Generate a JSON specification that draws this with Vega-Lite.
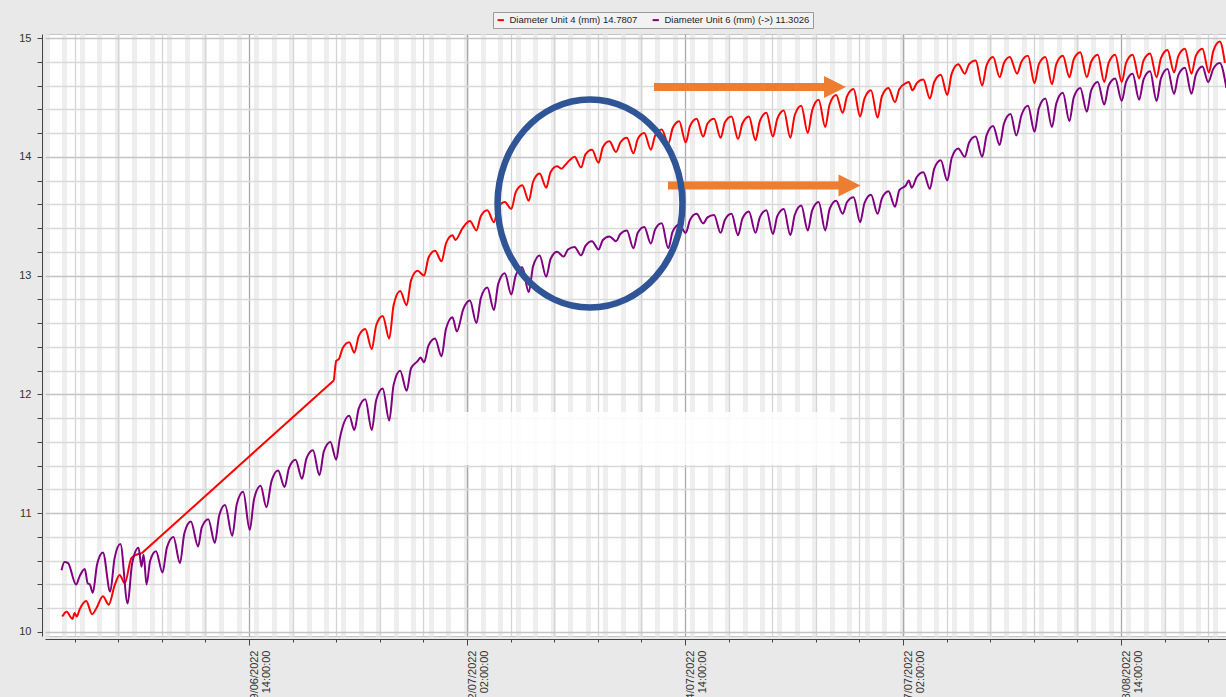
{
  "$schema": "https://vega.github.io/schema/vega-lite/v6.json",
  "width": 1181,
  "height": 602,
  "autosize": {"type": "none"},
  "padding": {"left": 45, "top": 34, "right": 0, "bottom": 61},
  "background": "#e9e9e9",
  "config": {"view": {"fill": "#ffffff", "stroke": "#c4c4c4"}, "font": "Liberation Sans"},
  "resolve": {"axis": {"x": "independent"}},
  "datasets": {
    "patch": [{"t1": "2022-06-28T03:03", "t2": "2022-07-23T11:20", "v1": 11.406, "v2": 11.852}],
    "gap": [{"t1": "2022-06-13T10:00", "t2": "2022-06-24T11:00", "v1": 10.66, "v2": 12.12}],
    "arrows": [
      {"t1": "2022-07-12T19:20", "t2": "2022-07-22T16:02", "th": "2022-07-23T04:25", "v": 14.588},
      {"t1": "2022-07-13T14:36", "t2": "2022-07-23T11:19", "th": "2022-07-24T00:22", "v": 13.758}
    ],
    "ring": [{"t": "2022-07-09T03:16", "v": 13.607}],
    "u4": [
      {"t":"2022-06-08T21:00","v":10.13,"s":1},{"t":"2022-06-09T03:00","v":10.17,"s":1},{"t":"2022-06-09T11:00","v":10.11,"s":1},{"t":"2022-06-09T14:00","v":10.16,"s":1},{"t":"2022-06-09T17:00","v":10.13,"s":1},{"t":"2022-06-09T21:00","v":10.19,"s":1},
      {"t":"2022-06-10T06:00","v":10.26,"s":1},{"t":"2022-06-10T14:00","v":10.15,"s":1},{"t":"2022-06-10T20:00","v":10.2,"s":1},
      {"t":"2022-06-11T05:00","v":10.3,"s":1},{"t":"2022-06-11T13:00","v":10.23,"s":1},{"t":"2022-06-11T21:00","v":10.39,"s":1},
      {"t":"2022-06-12T04:00","v":10.48,"s":1},{"t":"2022-06-12T11:00","v":10.41,"s":1},{"t":"2022-06-12T20:00","v":10.62,"s":1},
      {"t":"2022-06-13T03:00","v":10.65,"s":1},{"t":"2022-06-13T10:00","v":10.66,"s":1},
      {"t":"2022-06-24T11:00","v":12.12,"s":2},{"t":"2022-06-24T14:00","v":12.28,"s":2},{"t":"2022-06-24T18:00","v":12.3,"s":2},{"t":"2022-06-24T23:00","v":12.39,"s":2},
      {"t":"2022-06-25T08:00","v":12.44,"s":2},{"t":"2022-06-25T15:00","v":12.35,"s":2},{"t":"2022-06-25T21:00","v":12.49,"s":2},
      {"t":"2022-06-26T06:00","v":12.55,"s":2},{"t":"2022-06-26T15:00","v":12.38,"s":2},{"t":"2022-06-26T21:00","v":12.58,"s":2},
      {"t":"2022-06-27T06:00","v":12.66,"s":2},{"t":"2022-06-27T15:00","v":12.47,"s":2},{"t":"2022-06-27T21:00","v":12.75,"s":2},
      {"t":"2022-06-28T06:00","v":12.87,"s":2},{"t":"2022-06-28T15:00","v":12.75,"s":2},{"t":"2022-06-28T21:00","v":12.96,"s":2},
      {"t":"2022-06-29T06:00","v":13.04,"s":2},{"t":"2022-06-29T15:00","v":13.0,"s":2},{"t":"2022-06-29T21:00","v":13.15,"s":2},
      {"t":"2022-06-30T06:00","v":13.21,"s":2},{"t":"2022-06-30T15:00","v":13.12,"s":2},{"t":"2022-06-30T21:00","v":13.27,"s":2},
      {"t":"2022-07-01T06:00","v":13.34,"s":2},{"t":"2022-07-01T10:00","v":13.3,"s":2},{"t":"2022-07-01T20:00","v":13.4,"s":2},
      {"t":"2022-07-02T06:00","v":13.46,"s":2},{"t":"2022-07-02T15:00","v":13.38,"s":2},{"t":"2022-07-02T21:00","v":13.5,"s":2},
      {"t":"2022-07-03T06:00","v":13.55,"s":2},{"t":"2022-07-03T15:00","v":13.45,"s":2},{"t":"2022-07-03T21:00","v":13.57,"s":2},
      {"t":"2022-07-04T06:00","v":13.62,"s":2},{"t":"2022-07-04T15:00","v":13.56,"s":2},{"t":"2022-07-04T21:00","v":13.7,"s":2},
      {"t":"2022-07-05T06:00","v":13.76,"s":2},{"t":"2022-07-05T15:00","v":13.63,"s":2},{"t":"2022-07-05T21:00","v":13.79,"s":2},
      {"t":"2022-07-06T06:00","v":13.86,"s":2},{"t":"2022-07-06T15:00","v":13.74,"s":2},{"t":"2022-07-06T21:00","v":13.87,"s":2},
      {"t":"2022-07-07T06:00","v":13.92,"s":2},{"t":"2022-07-07T12:00","v":13.9,"s":2},{"t":"2022-07-07T17:00","v":13.93,"s":2},{"t":"2022-07-07T23:00","v":13.97,"s":2},
      {"t":"2022-07-08T06:00","v":14.0,"s":2},{"t":"2022-07-08T15:00","v":13.91,"s":2},{"t":"2022-07-08T21:00","v":14.02,"s":2},
      {"t":"2022-07-09T06:00","v":14.06,"s":2},{"t":"2022-07-09T15:00","v":13.95,"s":2},{"t":"2022-07-09T21:00","v":14.08,"s":2},
      {"t":"2022-07-10T06:00","v":14.13,"s":2},{"t":"2022-07-10T15:00","v":14.04,"s":2},{"t":"2022-07-10T21:00","v":14.12,"s":2},
      {"t":"2022-07-11T06:00","v":14.16,"s":2},{"t":"2022-07-11T15:00","v":14.03,"s":2},{"t":"2022-07-11T21:00","v":14.15,"s":2},
      {"t":"2022-07-12T06:00","v":14.2,"s":2},{"t":"2022-07-12T15:00","v":14.06,"s":2},{"t":"2022-07-12T21:00","v":14.18,"s":2},
      {"t":"2022-07-13T06:00","v":14.23,"s":2},{"t":"2022-07-13T15:00","v":14.11,"s":2},{"t":"2022-07-13T21:00","v":14.24,"s":2},
      {"t":"2022-07-14T06:00","v":14.3,"s":2},{"t":"2022-07-14T15:00","v":14.12,"s":2},{"t":"2022-07-14T21:00","v":14.26,"s":2},
      {"t":"2022-07-15T06:00","v":14.32,"s":2},{"t":"2022-07-15T15:00","v":14.17,"s":2},{"t":"2022-07-15T21:00","v":14.28,"s":2},
      {"t":"2022-07-16T06:00","v":14.32,"s":2},{"t":"2022-07-16T15:00","v":14.16,"s":2},{"t":"2022-07-16T21:00","v":14.29,"s":2},
      {"t":"2022-07-17T06:00","v":14.34,"s":2},{"t":"2022-07-17T15:00","v":14.15,"s":2},{"t":"2022-07-17T21:00","v":14.28,"s":2},
      {"t":"2022-07-18T06:00","v":14.34,"s":2},{"t":"2022-07-18T15:00","v":14.14,"s":2},{"t":"2022-07-18T21:00","v":14.3,"s":2},
      {"t":"2022-07-19T06:00","v":14.37,"s":2},{"t":"2022-07-19T15:00","v":14.17,"s":2},{"t":"2022-07-19T21:00","v":14.32,"s":2},
      {"t":"2022-07-20T06:00","v":14.39,"s":2},{"t":"2022-07-20T15:00","v":14.16,"s":2},{"t":"2022-07-20T21:00","v":14.35,"s":2},
      {"t":"2022-07-21T06:00","v":14.43,"s":2},{"t":"2022-07-21T15:00","v":14.2,"s":2},{"t":"2022-07-21T21:00","v":14.39,"s":2},
      {"t":"2022-07-22T06:00","v":14.48,"s":2},{"t":"2022-07-22T15:00","v":14.25,"s":2},{"t":"2022-07-22T21:00","v":14.44,"s":2},
      {"t":"2022-07-23T06:00","v":14.52,"s":2},{"t":"2022-07-23T15:00","v":14.37,"s":2},{"t":"2022-07-23T21:00","v":14.51,"s":2},
      {"t":"2022-07-24T06:00","v":14.57,"s":2},{"t":"2022-07-24T15:00","v":14.34,"s":2},{"t":"2022-07-24T21:00","v":14.49,"s":2},
      {"t":"2022-07-25T06:00","v":14.56,"s":2},{"t":"2022-07-25T15:00","v":14.33,"s":2},{"t":"2022-07-25T21:00","v":14.51,"s":2},
      {"t":"2022-07-26T06:00","v":14.58,"s":2},{"t":"2022-07-26T15:00","v":14.46,"s":2},{"t":"2022-07-26T21:00","v":14.57,"s":2},
      {"t":"2022-07-27T06:00","v":14.62,"s":2},{"t":"2022-07-27T10:00","v":14.63,"s":2},{"t":"2022-07-27T15:00","v":14.56,"s":2},{"t":"2022-07-27T21:00","v":14.62,"s":2},
      {"t":"2022-07-28T06:00","v":14.65,"s":2},{"t":"2022-07-28T15:00","v":14.49,"s":2},{"t":"2022-07-28T21:00","v":14.63,"s":2},
      {"t":"2022-07-29T06:00","v":14.69,"s":2},{"t":"2022-07-29T15:00","v":14.52,"s":2},{"t":"2022-07-29T21:00","v":14.7,"s":2},
      {"t":"2022-07-30T06:00","v":14.78,"s":2},{"t":"2022-07-30T15:00","v":14.7,"s":2},{"t":"2022-07-30T21:00","v":14.78,"s":2},
      {"t":"2022-07-31T06:00","v":14.81,"s":2},{"t":"2022-07-31T15:00","v":14.6,"s":2},{"t":"2022-07-31T21:00","v":14.77,"s":2},
      {"t":"2022-08-01T06:00","v":14.84,"s":2},{"t":"2022-08-01T15:00","v":14.67,"s":2},{"t":"2022-08-01T21:00","v":14.79,"s":2},
      {"t":"2022-08-02T05:00","v":14.84,"s":2},{"t":"2022-08-02T15:00","v":14.7,"s":2},{"t":"2022-08-02T21:00","v":14.8,"s":2},
      {"t":"2022-08-03T06:00","v":14.85,"s":2},{"t":"2022-08-03T15:00","v":14.62,"s":2},{"t":"2022-08-03T21:00","v":14.78,"s":2},
      {"t":"2022-08-04T06:00","v":14.84,"s":2},{"t":"2022-08-04T15:00","v":14.61,"s":2},{"t":"2022-08-04T21:00","v":14.78,"s":2},
      {"t":"2022-08-05T06:00","v":14.85,"s":2},{"t":"2022-08-05T15:00","v":14.67,"s":2},{"t":"2022-08-05T21:00","v":14.82,"s":2},
      {"t":"2022-08-06T06:00","v":14.88,"s":2},{"t":"2022-08-06T15:00","v":14.67,"s":2},{"t":"2022-08-06T21:00","v":14.8,"s":2},
      {"t":"2022-08-07T06:00","v":14.86,"s":2},{"t":"2022-08-07T15:00","v":14.63,"s":2},{"t":"2022-08-07T21:00","v":14.79,"s":2},
      {"t":"2022-08-08T06:00","v":14.86,"s":2},{"t":"2022-08-08T15:00","v":14.63,"s":2},{"t":"2022-08-08T21:00","v":14.79,"s":2},
      {"t":"2022-08-09T06:00","v":14.86,"s":2},{"t":"2022-08-09T15:00","v":14.66,"s":2},{"t":"2022-08-09T21:00","v":14.81,"s":2},
      {"t":"2022-08-10T06:00","v":14.87,"s":2},{"t":"2022-08-10T15:00","v":14.67,"s":2},{"t":"2022-08-10T21:00","v":14.83,"s":2},
      {"t":"2022-08-11T06:00","v":14.9,"s":2},{"t":"2022-08-11T15:00","v":14.71,"s":2},{"t":"2022-08-11T21:00","v":14.85,"s":2},
      {"t":"2022-08-12T06:00","v":14.91,"s":2},{"t":"2022-08-12T15:00","v":14.7,"s":2},{"t":"2022-08-12T21:00","v":14.85,"s":2},
      {"t":"2022-08-13T06:00","v":14.91,"s":2},{"t":"2022-08-13T15:00","v":14.71,"s":2},{"t":"2022-08-13T21:00","v":14.89,"s":2},
      {"t":"2022-08-14T06:00","v":14.97,"s":2},{"t":"2022-08-14T13:00","v":14.79,"s":2}
    ],
    "u6": [
      {"t":"2022-06-08T20:00","v":10.52},{"t":"2022-06-09T00:00","v":10.59},{"t":"2022-06-09T05:00","v":10.58},{"t":"2022-06-09T16:00","v":10.4},{"t":"2022-06-09T21:00","v":10.47},
      {"t":"2022-06-10T04:00","v":10.53},{"t":"2022-06-10T08:00","v":10.41},{"t":"2022-06-10T11:00","v":10.4},{"t":"2022-06-10T15:00","v":10.33},{"t":"2022-06-10T21:00","v":10.57},
      {"t":"2022-06-11T05:00","v":10.67},{"t":"2022-06-11T15:00","v":10.34},{"t":"2022-06-11T21:00","v":10.62},
      {"t":"2022-06-12T05:00","v":10.74},{"t":"2022-06-12T15:00","v":10.24},{"t":"2022-06-12T21:00","v":10.57},
      {"t":"2022-06-13T06:00","v":10.71},{"t":"2022-06-13T10:00","v":10.55},{"t":"2022-06-13T13:00","v":10.65},{"t":"2022-06-13T17:00","v":10.4},{"t":"2022-06-13T22:00","v":10.6},
      {"t":"2022-06-14T06:00","v":10.68},{"t":"2022-06-14T15:00","v":10.5},{"t":"2022-06-14T21:00","v":10.71},
      {"t":"2022-06-15T06:00","v":10.8},{"t":"2022-06-15T15:00","v":10.58},{"t":"2022-06-15T21:00","v":10.83},
      {"t":"2022-06-16T06:00","v":10.93},{"t":"2022-06-16T16:00","v":10.72},{"t":"2022-06-16T21:00","v":10.88},
      {"t":"2022-06-17T06:00","v":10.95},{"t":"2022-06-17T15:00","v":10.75},{"t":"2022-06-17T21:00","v":10.98},
      {"t":"2022-06-18T05:00","v":11.07},{"t":"2022-06-18T15:00","v":10.81},{"t":"2022-06-18T21:00","v":11.07},
      {"t":"2022-06-19T06:00","v":11.18},{"t":"2022-06-19T15:00","v":10.86},{"t":"2022-06-19T21:00","v":11.12},
      {"t":"2022-06-20T06:00","v":11.23},{"t":"2022-06-20T14:00","v":11.05},{"t":"2022-06-20T21:00","v":11.27},
      {"t":"2022-06-21T06:00","v":11.36},{"t":"2022-06-21T15:00","v":11.22},{"t":"2022-06-21T21:00","v":11.38},
      {"t":"2022-06-22T06:00","v":11.45},{"t":"2022-06-22T15:00","v":11.29},{"t":"2022-06-22T21:00","v":11.46},
      {"t":"2022-06-23T06:00","v":11.53},{"t":"2022-06-23T15:00","v":11.32},{"t":"2022-06-23T21:00","v":11.52},
      {"t":"2022-06-24T06:00","v":11.6},{"t":"2022-06-24T14:00","v":11.45},{"t":"2022-06-24T19:00","v":11.63},
      {"t":"2022-06-25T08:00","v":11.82},{"t":"2022-06-25T15:00","v":11.7},{"t":"2022-06-25T21:00","v":11.88},
      {"t":"2022-06-26T06:00","v":11.96},{"t":"2022-06-26T15:00","v":11.7},{"t":"2022-06-26T21:00","v":11.95},
      {"t":"2022-06-27T06:00","v":12.05},{"t":"2022-06-27T15:00","v":11.78},{"t":"2022-06-27T21:00","v":12.08},
      {"t":"2022-06-28T06:00","v":12.2},{"t":"2022-06-28T15:00","v":12.03},{"t":"2022-06-28T21:00","v":12.22},
      {"t":"2022-06-29T06:00","v":12.28},{"t":"2022-06-29T10:00","v":12.31},{"t":"2022-06-29T15:00","v":12.27},{"t":"2022-06-29T21:00","v":12.41},
      {"t":"2022-06-30T06:00","v":12.47},{"t":"2022-06-30T15:00","v":12.32},{"t":"2022-06-30T21:00","v":12.55},
      {"t":"2022-07-01T06:00","v":12.65},{"t":"2022-07-01T12:00","v":12.53},{"t":"2022-07-01T21:00","v":12.72},
      {"t":"2022-07-02T06:00","v":12.79},{"t":"2022-07-02T15:00","v":12.6},{"t":"2022-07-02T21:00","v":12.81},
      {"t":"2022-07-03T06:00","v":12.9},{"t":"2022-07-03T15:00","v":12.71},{"t":"2022-07-03T21:00","v":12.93},
      {"t":"2022-07-04T06:00","v":13.02},{"t":"2022-07-04T15:00","v":12.84},{"t":"2022-07-04T21:00","v":13.0},
      {"t":"2022-07-05T06:00","v":13.07},{"t":"2022-07-05T15:00","v":12.86},{"t":"2022-07-05T21:00","v":13.08},
      {"t":"2022-07-06T06:00","v":13.17},{"t":"2022-07-06T15:00","v":12.99},{"t":"2022-07-06T21:00","v":13.14},
      {"t":"2022-07-07T06:00","v":13.2},{"t":"2022-07-07T15:00","v":13.16},{"t":"2022-07-07T21:00","v":13.22},
      {"t":"2022-07-08T06:00","v":13.24},{"t":"2022-07-08T15:00","v":13.17},{"t":"2022-07-08T21:00","v":13.25},
      {"t":"2022-07-09T06:00","v":13.29},{"t":"2022-07-09T15:00","v":13.22},{"t":"2022-07-09T21:00","v":13.3},
      {"t":"2022-07-10T06:00","v":13.33},{"t":"2022-07-10T15:00","v":13.29},{"t":"2022-07-10T21:00","v":13.35},
      {"t":"2022-07-11T06:00","v":13.38},{"t":"2022-07-11T15:00","v":13.23},{"t":"2022-07-11T21:00","v":13.36},
      {"t":"2022-07-12T06:00","v":13.41},{"t":"2022-07-12T15:00","v":13.27},{"t":"2022-07-12T21:00","v":13.39},
      {"t":"2022-07-13T06:00","v":13.44},{"t":"2022-07-13T15:00","v":13.23},{"t":"2022-07-13T21:00","v":13.37},
      {"t":"2022-07-14T06:00","v":13.43},{"t":"2022-07-14T15:00","v":13.36},{"t":"2022-07-14T21:00","v":13.47},
      {"t":"2022-07-15T06:00","v":13.52},{"t":"2022-07-15T15:00","v":13.44},{"t":"2022-07-15T21:00","v":13.49},
      {"t":"2022-07-16T06:00","v":13.51},{"t":"2022-07-16T15:00","v":13.36},{"t":"2022-07-16T21:00","v":13.47},
      {"t":"2022-07-17T06:00","v":13.52},{"t":"2022-07-17T15:00","v":13.34},{"t":"2022-07-17T21:00","v":13.48},
      {"t":"2022-07-18T06:00","v":13.54},{"t":"2022-07-18T15:00","v":13.36},{"t":"2022-07-18T21:00","v":13.49},
      {"t":"2022-07-19T06:00","v":13.55},{"t":"2022-07-19T15:00","v":13.35},{"t":"2022-07-19T21:00","v":13.5},
      {"t":"2022-07-20T06:00","v":13.56},{"t":"2022-07-20T15:00","v":13.34},{"t":"2022-07-20T21:00","v":13.51},
      {"t":"2022-07-21T06:00","v":13.59},{"t":"2022-07-21T15:00","v":13.38},{"t":"2022-07-21T21:00","v":13.55},
      {"t":"2022-07-22T06:00","v":13.62},{"t":"2022-07-22T15:00","v":13.38},{"t":"2022-07-22T21:00","v":13.56},
      {"t":"2022-07-23T06:00","v":13.63},{"t":"2022-07-23T15:00","v":13.52},{"t":"2022-07-23T21:00","v":13.62},
      {"t":"2022-07-24T06:00","v":13.66},{"t":"2022-07-24T15:00","v":13.45},{"t":"2022-07-24T21:00","v":13.61},
      {"t":"2022-07-25T06:00","v":13.68},{"t":"2022-07-25T15:00","v":13.52},{"t":"2022-07-25T21:00","v":13.65},
      {"t":"2022-07-26T06:00","v":13.71},{"t":"2022-07-26T15:00","v":13.58},{"t":"2022-07-26T21:00","v":13.72},
      {"t":"2022-07-27T06:00","v":13.76},{"t":"2022-07-27T10:00","v":13.8},{"t":"2022-07-27T14:00","v":13.74},{"t":"2022-07-27T21:00","v":13.83},
      {"t":"2022-07-28T06:00","v":13.87},{"t":"2022-07-28T15:00","v":13.73},{"t":"2022-07-28T21:00","v":13.9},
      {"t":"2022-07-29T06:00","v":13.97},{"t":"2022-07-29T15:00","v":13.8},{"t":"2022-07-29T21:00","v":13.99},
      {"t":"2022-07-30T06:00","v":14.07},{"t":"2022-07-30T15:00","v":14.0},{"t":"2022-07-30T21:00","v":14.12},
      {"t":"2022-07-31T06:00","v":14.17},{"t":"2022-07-31T15:00","v":14.0},{"t":"2022-07-31T21:00","v":14.18},
      {"t":"2022-08-01T06:00","v":14.26},{"t":"2022-08-01T15:00","v":14.1},{"t":"2022-08-01T21:00","v":14.28},
      {"t":"2022-08-02T06:00","v":14.36},{"t":"2022-08-02T14:00","v":14.18},{"t":"2022-08-02T21:00","v":14.35},
      {"t":"2022-08-03T06:00","v":14.43},{"t":"2022-08-03T15:00","v":14.21},{"t":"2022-08-03T21:00","v":14.41},
      {"t":"2022-08-04T06:00","v":14.49},{"t":"2022-08-04T15:00","v":14.25},{"t":"2022-08-04T21:00","v":14.45},
      {"t":"2022-08-05T06:00","v":14.54},{"t":"2022-08-05T15:00","v":14.3},{"t":"2022-08-05T21:00","v":14.5},
      {"t":"2022-08-06T06:00","v":14.58},{"t":"2022-08-06T15:00","v":14.38},{"t":"2022-08-06T21:00","v":14.56},
      {"t":"2022-08-07T06:00","v":14.63},{"t":"2022-08-07T15:00","v":14.44},{"t":"2022-08-07T21:00","v":14.6},
      {"t":"2022-08-08T06:00","v":14.66},{"t":"2022-08-08T15:00","v":14.47},{"t":"2022-08-08T21:00","v":14.63},
      {"t":"2022-08-09T06:00","v":14.7},{"t":"2022-08-09T15:00","v":14.48},{"t":"2022-08-09T21:00","v":14.65},
      {"t":"2022-08-10T06:00","v":14.72},{"t":"2022-08-10T15:00","v":14.47},{"t":"2022-08-10T21:00","v":14.66},
      {"t":"2022-08-11T06:00","v":14.74},{"t":"2022-08-11T15:00","v":14.53},{"t":"2022-08-11T21:00","v":14.69},
      {"t":"2022-08-12T06:00","v":14.75},{"t":"2022-08-12T15:00","v":14.53},{"t":"2022-08-12T21:00","v":14.69},
      {"t":"2022-08-13T06:00","v":14.76},{"t":"2022-08-13T14:00","v":14.63},{"t":"2022-08-13T21:00","v":14.74},
      {"t":"2022-08-14T06:00","v":14.79},{"t":"2022-08-14T15:00","v":14.58}
    ]
  },
  "layer": [
    {
      "data": {"name": "patch"},
      "mark": {"type": "rect", "fill": "#ffffff", "opacity": 0.85},
      "encoding": {
        "x": {
          "field": "t1", "type": "temporal",
          "scale": {"domain": [{"year": 2022, "month": 6, "date": 7, "hours": 21, "minutes": 16}, {"year": 2022, "month": 8, "date": 14, "hours": 14, "minutes": 30}]},
          "axis": {"orient": "top", "title": null, "grid": true, "gridColor": "#eeeeee", "gridWidth": 5, "tickCount": {"interval": "day", "step": 1}, "labels": false, "ticks": false, "domain": false}
        },
        "x2": {"field": "t2"},
        "y": {"field": "v1", "type": "quantitative", "title": null, "scale": {"domain": [9.9663, 15.0337], "nice": false, "zero": false}},
        "y2": {"field": "v2"}
      }
    },
    {
      "data": {"name": "gap"},
      "mark": {"type": "rule", "color": "#ff0000", "strokeWidth": 2},
      "encoding": {
        "x": {"field": "t1", "type": "temporal", "axis": null},
        "x2": {"field": "t2"},
        "y": {"field": "v1", "type": "quantitative", "title": null},
        "y2": {"field": "v2"}
      }
    },
    {
      "data": {"name": "u4"},
      "mark": {"type": "line", "interpolate": "monotone", "strokeWidth": 2, "clip": true},
      "encoding": {
        "x": {
          "field": "t", "type": "temporal",
          "axis": {
            "orient": "bottom", "title": null, "offset": 3, "tickCount": 100,
            "values": [
              {"year": 2022, "month": 6, "date": 9, "hours": 14}, {"year": 2022, "month": 6, "date": 12, "hours": 2},
              {"year": 2022, "month": 6, "date": 14, "hours": 14}, {"year": 2022, "month": 6, "date": 17, "hours": 2},
              {"year": 2022, "month": 6, "date": 19, "hours": 14}, {"year": 2022, "month": 6, "date": 22, "hours": 2},
              {"year": 2022, "month": 6, "date": 24, "hours": 14}, {"year": 2022, "month": 6, "date": 27, "hours": 2},
              {"year": 2022, "month": 6, "date": 29, "hours": 14}, {"year": 2022, "month": 7, "date": 2, "hours": 2},
              {"year": 2022, "month": 7, "date": 4, "hours": 14}, {"year": 2022, "month": 7, "date": 7, "hours": 2},
              {"year": 2022, "month": 7, "date": 9, "hours": 14}, {"year": 2022, "month": 7, "date": 12, "hours": 2},
              {"year": 2022, "month": 7, "date": 14, "hours": 14}, {"year": 2022, "month": 7, "date": 17, "hours": 2},
              {"year": 2022, "month": 7, "date": 19, "hours": 14}, {"year": 2022, "month": 7, "date": 22, "hours": 2},
              {"year": 2022, "month": 7, "date": 24, "hours": 14}, {"year": 2022, "month": 7, "date": 27, "hours": 2},
              {"year": 2022, "month": 7, "date": 29, "hours": 14}, {"year": 2022, "month": 8, "date": 1, "hours": 2},
              {"year": 2022, "month": 8, "date": 3, "hours": 14}, {"year": 2022, "month": 8, "date": 6, "hours": 2},
              {"year": 2022, "month": 8, "date": 8, "hours": 14}, {"year": 2022, "month": 8, "date": 11, "hours": 2},
              {"year": 2022, "month": 8, "date": 13, "hours": 14}
            ],
            "grid": true,
            "gridColor": {"condition": {"test": "abs(((datum.value - datetime(2022,5,19,14,0,0,0)) / 86400000) % 12.5) < 0.01", "value": "#a9a9a9"}, "value": "#d4d4d4"},
            "gridWidth": 1.3,
            "tickSize": {"condition": {"test": "abs(((datum.value - datetime(2022,5,19,14,0,0,0)) / 86400000) % 12.5) < 0.01", "value": 6}, "value": 3},
            "tickColor": "#444444", "domainColor": "#444444",
            "labelExpr": "abs(((datum.value - datetime(2022,5,19,14,0,0,0)) / 86400000) % 12.5) < 0.01 ? [timeFormat(datum.value, '%d/%m/%Y'), timeFormat(datum.value, '%H:%M:%S')] : ''",
            "labelAngle": -90, "labelAlign": "right", "labelBaseline": "top",
            "labelFontSize": 11, "labelLineHeight": 12, "labelColor": "#333333", "labelPadding": 5,
            "labelOverlap": false, "labelBound": false, "labelFlush": false, "labelFont": "Liberation Sans"
          }
        },
        "y": {
          "field": "v", "type": "quantitative", "title": null,
          "axis": {
            "title": null, "offset": 3, "tickCount": 100,
            "values": [10, 10.2, 10.4, 10.6, 10.8, 11, 11.2, 11.4, 11.6, 11.8, 12, 12.2, 12.4, 12.6, 12.8, 13, 13.2, 13.4, 13.6, 13.8, 14, 14.2, 14.4, 14.6, 14.8, 15],
            "labelExpr": "datum.value % 1 == 0 ? format(datum.value, 'd') : ''",
            "labelOverlap": false, "labelBound": false, "labelFlush": false,
            "grid": true,
            "gridColor": {"condition": {"test": "datum.value % 1 == 0", "value": "#c4c4c4"}, "value": "#d9d9d9"},
            "gridWidth": 1.3,
            "tickSize": 5, "tickColor": "#444444", "domainColor": "#444444",
            "labelFontSize": 11, "labelColor": "#333333", "labelPadding": 6, "labelFont": "Liberation Sans"
          }
        },
        "detail": {"field": "s", "type": "nominal"},
        "color": {
          "datum": "Diameter Unit 4 (mm) 14.7807",
          "scale": {"domain": ["Diameter Unit 4 (mm) 14.7807", "Diameter Unit 6 (mm) (->) 11.3026"], "range": ["#ff0000", "#800080"]},
          "legend": {
            "orient": "none", "legendX": 448, "legendY": -22, "direction": "horizontal", "title": null,
            "symbolType": "stroke", "symbolSize": 40, "symbolStrokeWidth": 2,
            "labelFontSize": 9.5, "labelFont": "Liberation Sans", "labelColor": "#222222", "labelOffset": 4,
            "strokeColor": "#9a9a9a", "fillColor": "#f2f2f2", "padding": 3, "columnPadding": 10
          }
        }
      }
    },
    {
      "data": {"name": "u6"},
      "mark": {"type": "line", "interpolate": "monotone", "strokeWidth": 2, "clip": true},
      "encoding": {
        "x": {"field": "t", "type": "temporal", "axis": null},
        "y": {"field": "v", "type": "quantitative", "title": null},
        "color": {"datum": "Diameter Unit 6 (mm) (->) 11.3026"}
      }
    },
    {
      "data": {"name": "arrows"},
      "mark": {"type": "rule", "color": "#ed7d31", "strokeWidth": 8, "strokeCap": "butt"},
      "encoding": {
        "x": {"field": "t1", "type": "temporal", "axis": null},
        "x2": {"field": "t2"},
        "y": {"field": "v", "type": "quantitative", "title": null}
      }
    },
    {
      "data": {"name": "arrows"},
      "mark": {"type": "point", "shape": "M 1 0 L -1 -1 L -1 1 Z", "size": 484, "filled": true, "color": "#ed7d31", "opacity": 1},
      "encoding": {
        "x": {"field": "th", "type": "temporal", "axis": null},
        "y": {"field": "v", "type": "quantitative", "title": null}
      }
    },
    {
      "data": {"name": "ring"},
      "mark": {"type": "point", "shape": "M 0.889 0 C 0.889 0.552 0.491 1 0 1 C -0.491 1 -0.889 0.552 -0.889 0 C -0.889 -0.552 -0.491 -1 0 -1 C 0.491 -1 0.889 -0.552 0.889 0 Z", "size": 43264, "filled": false, "color": "#2f5597", "strokeWidth": 6.5, "opacity": 1},
      "encoding": {
        "x": {"field": "t", "type": "temporal", "axis": null},
        "y": {"field": "v", "type": "quantitative", "title": null}
      }
    }
  ]
}
